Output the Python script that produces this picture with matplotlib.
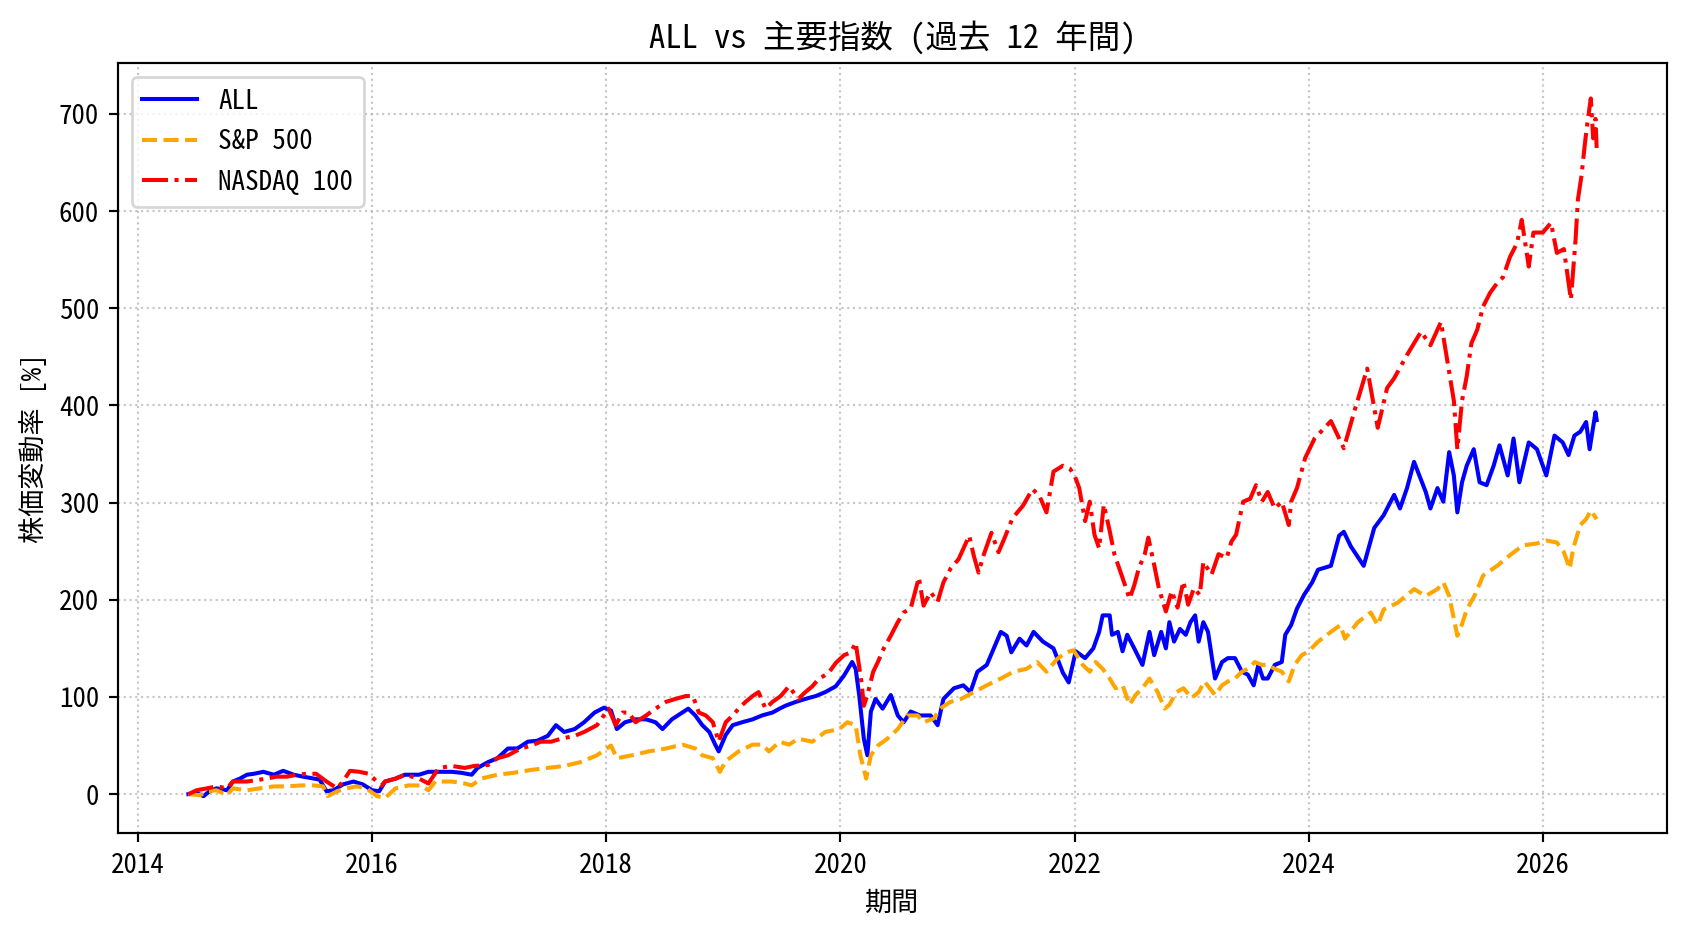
import numpy as np
import pandas as pd
import matplotlib
matplotlib.use("Agg")
import matplotlib.pyplot as plt
import matplotlib.dates as mdates

plt.rcParams['font.family'] = ['Noto Sans Mono CJK JP', 'Noto Sans CJK JP', 'DejaVu Sans']

title = "ALL vs 主要指数 (過去 12 年間)"
xlabel = "期間"
ylabel = "株価変動率 [%]"
series_names = ["ALL", "S&P 500", "NASDAQ 100"]

# (decimal year, % change)
all_t = [2014.43, 2014.50, 2014.56, 2014.61, 2014.67, 2014.76, 2014.81, 2014.87, 2014.93, 2014.99,
         2015.07, 2015.16, 2015.24, 2015.33, 2015.41, 2015.50, 2015.55, 2015.61, 2015.67, 2015.75,
         2015.84, 2015.92, 2016.00, 2016.06, 2016.11, 2016.20, 2016.28, 2016.40, 2016.48, 2016.57,
         2016.68, 2016.76, 2016.85, 2016.90, 2016.99, 2017.07, 2017.16, 2017.24, 2017.33, 2017.41,
         2017.50, 2017.57, 2017.64, 2017.73, 2017.81, 2017.90, 2017.98, 2018.04, 2018.09, 2018.16,
         2018.25, 2018.34, 2018.42, 2018.48, 2018.56, 2018.65, 2018.70, 2018.76, 2018.82, 2018.88,
         2018.93, 2018.96, 2019.02, 2019.08, 2019.16, 2019.25, 2019.33, 2019.42, 2019.48, 2019.53,
         2019.62, 2019.70, 2019.79, 2019.87, 2019.96, 2020.03, 2020.10, 2020.13, 2020.16, 2020.20,
         2020.23, 2020.26, 2020.30, 2020.36, 2020.43, 2020.49, 2020.54, 2020.60, 2020.68, 2020.77,
         2020.83, 2020.88, 2020.97, 2021.05, 2021.11, 2021.17, 2021.25, 2021.31, 2021.37, 2021.42,
         2021.46, 2021.53, 2021.59, 2021.65, 2021.73, 2021.82, 2021.90, 2021.95, 2022.01, 2022.09,
         2022.16, 2022.21, 2022.24, 2022.30, 2022.32, 2022.37, 2022.41, 2022.45, 2022.51, 2022.58,
         2022.64, 2022.68, 2022.74, 2022.78, 2022.81, 2022.85, 2022.90, 2022.95, 2022.99, 2023.03,
         2023.06, 2023.10, 2023.14, 2023.20, 2023.26, 2023.31, 2023.37, 2023.43, 2023.48, 2023.53,
         2023.57, 2023.61, 2023.65, 2023.71, 2023.77, 2023.80, 2023.85, 2023.90, 2023.96, 2024.03,
         2024.08, 2024.19, 2024.26, 2024.30, 2024.36, 2024.47, 2024.56, 2024.64, 2024.73, 2024.78,
         2024.84, 2024.90, 2025.00, 2025.04, 2025.10, 2025.15, 2025.20, 2025.24, 2025.27, 2025.31,
         2025.35, 2025.41, 2025.46, 2025.52, 2025.58, 2025.63, 2025.70, 2025.75, 2025.80, 2025.88,
         2025.95, 2026.03, 2026.10, 2026.17, 2026.22, 2026.27, 2026.32, 2026.37, 2026.40, 2026.45,
         2026.46]
all_v = [0, 1, -2, 3, 6, 4, 13, 16, 20, 21,
         23, 20, 24, 20, 18, 16, 15, 3, 4, 10,
         13, 10, 4, 3, 13, 16, 20, 20, 23, 23,
         23, 22, 20, 27, 33, 37, 47, 47, 54, 55,
         60, 71, 64, 67, 74, 84, 89, 86, 67, 74,
         77, 77, 74, 67, 77, 84, 88, 81, 71, 64,
         51, 44, 61, 71, 74, 77, 81, 84, 88, 91,
         95, 98, 101, 105, 111, 122, 136, 129, 102, 57,
         40, 85, 98, 88, 102, 81, 74, 85, 81, 81,
         71, 98, 109, 112, 105, 126, 133, 150, 167, 163,
         146, 160, 153, 167, 157, 150, 125, 115, 147, 140,
         150, 167, 184, 184, 164, 167, 147, 164, 150, 133,
         167, 143, 167, 150, 177, 157, 170, 164, 177, 184,
         157, 177, 167, 119, 136, 140, 140, 126, 123, 112,
         133, 119, 119, 133, 136, 164, 174, 191, 205, 218,
         231, 235, 266, 270, 255, 235, 274, 287, 308, 294,
         315, 342, 311, 294, 315, 301, 352, 328, 290, 321,
         338, 355, 321, 318, 338, 359, 328, 366, 321, 362,
         355, 328, 369, 362, 349, 369, 373, 383, 355, 393,
         385]

sp_t = [2014.43, 2014.53, 2014.59, 2014.67, 2014.76, 2014.81, 2014.93, 2015.04, 2015.16, 2015.27,
        2015.39, 2015.50, 2015.58, 2015.62, 2015.70, 2015.78, 2015.87, 2015.95, 2016.04, 2016.11,
        2016.20, 2016.31, 2016.42, 2016.48, 2016.54, 2016.68, 2016.79, 2016.85, 2016.93, 2017.07,
        2017.21, 2017.36, 2017.50, 2017.64, 2017.78, 2017.92, 2018.04, 2018.09, 2018.22, 2018.36,
        2018.51, 2018.65, 2018.76, 2018.82, 2018.91, 2018.97, 2019.02, 2019.13, 2019.25, 2019.33,
        2019.39, 2019.48, 2019.56, 2019.64, 2019.76, 2019.87, 2019.99, 2020.06, 2020.13, 2020.17,
        2020.22, 2020.26, 2020.32, 2020.40, 2020.49, 2020.57, 2020.66, 2020.71, 2020.80, 2020.85,
        2020.94, 2021.03, 2021.14, 2021.25, 2021.37, 2021.48, 2021.59, 2021.68, 2021.76, 2021.85,
        2021.93, 2021.99, 2022.04, 2022.07, 2022.13, 2022.18, 2022.24, 2022.30, 2022.35, 2022.41,
        2022.47, 2022.52, 2022.58, 2022.64, 2022.71, 2022.77, 2022.81, 2022.87, 2022.93, 2023.00,
        2023.06, 2023.11, 2023.20, 2023.26, 2023.31, 2023.37, 2023.43, 2023.48, 2023.54, 2023.60,
        2023.65, 2023.71, 2023.77, 2023.83, 2023.88, 2023.94, 2024.00, 2024.08, 2024.19, 2024.27,
        2024.31, 2024.42, 2024.53, 2024.59, 2024.64, 2024.76, 2024.90, 2025.00, 2025.10, 2025.15,
        2025.20, 2025.25, 2025.27, 2025.31, 2025.35, 2025.42, 2025.49, 2025.61, 2025.72, 2025.83,
        2025.95, 2026.03, 2026.12, 2026.18, 2026.23, 2026.26, 2026.32, 2026.37, 2026.41, 2026.46]
sp_v = [0, -1, 3, 4, -1, 6, 4, 6, 8, 8,
        9, 9, 8, -2, 3, 6, 8, 6, -2, -4,
        6, 9, 9, 4, 13, 13, 11, 9, 16, 20,
        22, 25, 27, 29, 33, 40, 50, 37, 40, 44,
        47, 51, 47, 40, 37, 23, 34, 44, 51, 51,
        44, 54, 51, 57, 54, 64, 67, 74, 71, 40,
        16, 40, 50, 57, 67, 81, 81, 74, 78, 88,
        95, 98, 105, 112, 119, 126, 129, 136, 126, 139,
        146, 148, 139, 133, 126, 136, 129, 119, 109, 112,
        92, 102, 109, 119, 105, 88, 92, 105, 109, 99,
        105, 116, 102, 112, 116, 119, 126, 129, 136, 133,
        133, 129, 126, 116, 133, 143, 147, 157, 167, 174,
        160, 177, 187, 174, 190, 197, 211, 204, 211, 218,
        204, 175, 163, 175, 190, 205, 225, 235, 246, 256,
        258, 261, 259, 249, 232, 253, 277, 283, 292, 283]

nq_t = [2014.43, 2014.50, 2014.59, 2014.67, 2014.76, 2014.81, 2014.93, 2015.04, 2015.10, 2015.18,
        2015.27, 2015.36, 2015.44, 2015.52, 2015.61, 2015.70, 2015.75, 2015.81, 2015.89, 2015.97,
        2016.04, 2016.08, 2016.11, 2016.20, 2016.28, 2016.40, 2016.48, 2016.57, 2016.68, 2016.79,
        2016.87, 2016.99, 2017.07, 2017.16, 2017.27, 2017.36, 2017.44, 2017.53, 2017.61, 2017.73,
        2017.81, 2017.92, 2018.02, 2018.08, 2018.14, 2018.19, 2018.25, 2018.34, 2018.42, 2018.51,
        2018.59, 2018.68, 2018.74, 2018.79, 2018.85, 2018.91, 2018.96, 2019.02, 2019.08, 2019.13,
        2019.19, 2019.25, 2019.30, 2019.36, 2019.42, 2019.49, 2019.56, 2019.64, 2019.70, 2019.76,
        2019.81, 2019.90, 2019.96, 2020.03, 2020.09, 2020.13, 2020.18, 2020.20, 2020.23, 2020.28,
        2020.32, 2020.37, 2020.43, 2020.49, 2020.54, 2020.60, 2020.67, 2020.71, 2020.77, 2020.83,
        2020.88, 2020.94, 2021.01, 2021.10, 2021.14, 2021.18, 2021.22, 2021.29, 2021.35, 2021.40,
        2021.47, 2021.56, 2021.64, 2021.70, 2021.76, 2021.82, 2021.90, 2021.96, 2022.00, 2022.04,
        2022.09, 2022.13, 2022.17, 2022.21, 2022.25, 2022.30, 2022.34, 2022.38, 2022.42, 2022.47,
        2022.51, 2022.55, 2022.60, 2022.63, 2022.68, 2022.72, 2022.78, 2022.83, 2022.88, 2022.93,
        2022.97, 2023.02, 2023.07, 2023.10, 2023.17, 2023.23, 2023.30, 2023.34, 2023.38, 2023.41,
        2023.44, 2023.50, 2023.55, 2023.60, 2023.65, 2023.71, 2023.77, 2023.83, 2023.85, 2023.90,
        2023.97, 2024.05, 2024.19, 2024.30, 2024.39, 2024.50, 2024.59, 2024.67, 2024.73, 2024.84,
        2024.96, 2025.04, 2025.13, 2025.19, 2025.24, 2025.27, 2025.31, 2025.35, 2025.39, 2025.44,
        2025.49, 2025.55, 2025.61, 2025.66, 2025.72, 2025.78, 2025.82, 2025.88, 2025.92, 2026.00,
        2026.07, 2026.12, 2026.18, 2026.22, 2026.24, 2026.28, 2026.30, 2026.33, 2026.36, 2026.38,
        2026.41, 2026.43, 2026.45, 2026.46]
nq_v = [0, 4, 6, 8, 6, 13, 13, 15, 16, 18,
        18, 20, 21, 21, 13, 6, 13, 24, 23, 21,
        13, 9, 13, 16, 20, 16, 11, 27, 29, 27,
        29, 30, 37, 40, 47, 50, 54, 54, 57, 60,
        64, 71, 88, 71, 84, 84, 74, 81, 88, 95,
        98, 101, 101, 84, 81, 74, 54, 74, 81, 88,
        95, 101, 105, 88, 95, 101, 111, 98, 105, 111,
        118, 125, 135, 143, 146, 156, 115, 91, 102, 126,
        136, 150, 163, 177, 187, 191, 223, 194, 208, 198,
        218, 232, 242, 266, 245, 228, 245, 269, 249, 263,
        284, 297, 314, 307, 290, 332, 338, 335, 328, 315,
        281, 301, 267, 253, 298, 271, 247, 233, 219, 201,
        215, 233, 247, 264, 236, 212, 188, 209, 192, 219,
        195, 212, 205, 239, 226, 247, 243, 260, 267, 284,
        301, 304, 318, 301, 311, 294, 301, 277, 301, 315,
        346, 366, 384, 356, 394, 438, 377, 418, 428, 452,
        476, 462, 486, 442, 405, 355, 405, 430, 464, 478,
        502, 516, 526, 532, 553, 567, 591, 543, 578, 578,
        588, 557, 561, 526, 509, 571, 612, 636, 670, 690,
        716, 675, 695, 665]


def to_dates(t):
    t = np.asarray(t, dtype=float)
    return pd.Timestamp("2014-01-01") + pd.to_timedelta((t - 2014.0) * 365.25, unit="D")


DPI = 195
fig = plt.figure(figsize=(1688 / DPI, 932 / DPI), dpi=DPI)
ax = fig.add_axes([0.0699, 0.1062, 0.9177, 0.8257])

ax.plot(to_dates(all_t), all_v, color="blue", linestyle="-", linewidth=1.5, label=series_names[0])
ax.plot(to_dates(sp_t), sp_v, color="orange", linestyle="--", linewidth=1.5, label=series_names[1])
ax.plot(to_dates(nq_t), nq_v, color="red", linestyle="-.", linewidth=1.5, label=series_names[2])

ax.xaxis.set_major_locator(mdates.YearLocator(2))
ax.xaxis.set_major_formatter(mdates.DateFormatter("%Y"))

ax.set_title(title, fontsize=12)
ax.set_xlabel(xlabel, fontsize=10)
ax.set_ylabel(ylabel, fontsize=10)
ax.grid(True, linestyle=":", alpha=0.7)
ax.legend(loc="upper left", fontsize=10)

fig.savefig("out.png", dpi=DPI)
